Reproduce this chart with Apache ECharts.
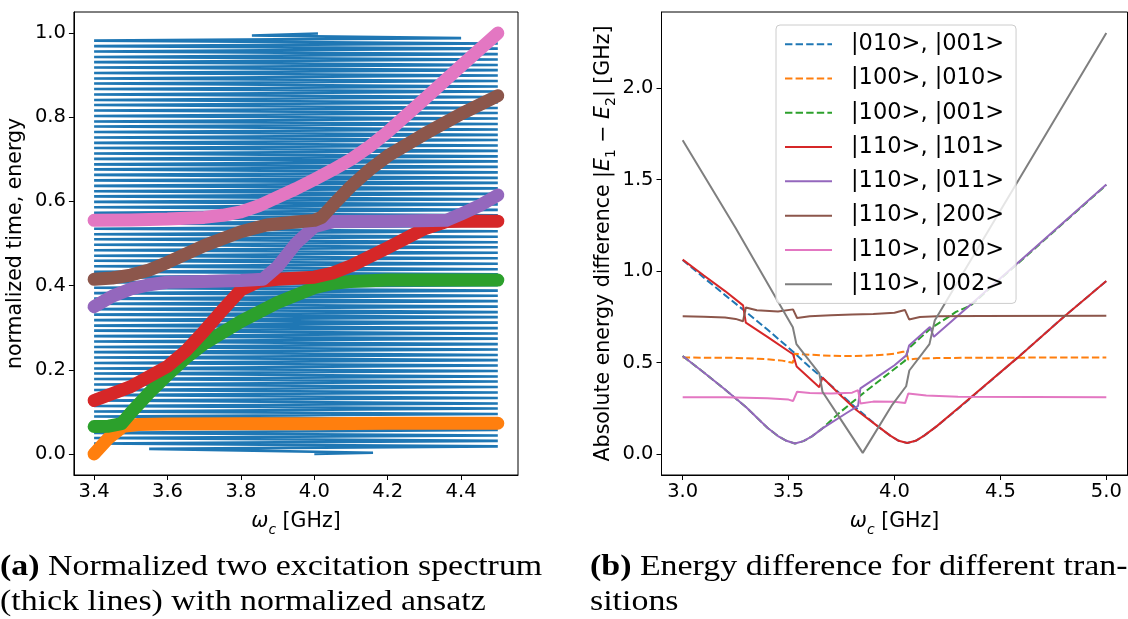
<!DOCTYPE html>
<html><head><meta charset="utf-8">
<script src="https://cdn.jsdelivr.net/npm/echarts@6/dist/echarts.min.js"></script>
<style>html,body{margin:0;padding:0;background:#fff}#c{width:1128px;height:619px}</style>
</head><body><div id="c"></div><script>
// ---------- Panel (a): ansatz zigzag (omega_c vs normalized time) ----------
const ANSATZ_START_W = [4.00, 4.16];
const ANSATZ_START_T = [0.000, 0.003];
const ANSATZ_LEFT_W = [
 3.55,3.40,3.40,3.40,3.40,3.40,3.40,3.40,3.40,3.40,
 3.40,3.40,3.40,3.40,3.40,3.40,3.40,3.40,3.40,3.40,
 3.40,3.40,3.40,3.40,3.40,3.40,3.40,3.40,3.40,3.40,
 3.40,3.40,3.40,3.40,3.40,3.40,3.40,3.40,3.40,3.40,
 3.40,3.40,3.40,3.40,3.40,3.40,3.40,3.40,3.40,3.40,
 3.40,3.40,3.40,3.40,3.40,3.40,3.40,3.40,3.40,3.40,
 3.40,3.40,3.40,3.40,3.40,3.40,3.40,3.40,3.40,3.40,
 3.40,3.40,3.40,3.40,3.40,3.40,3.40];
const ANSATZ_LEFT_T = [
 0.012,0.025,0.038,0.050,0.063,0.076,0.089,0.101,0.114,0.127,
 0.140,0.152,0.165,0.178,0.191,0.203,0.216,0.229,0.242,0.254,
 0.267,0.280,0.293,0.305,0.318,0.331,0.344,0.357,0.369,0.382,
 0.395,0.408,0.420,0.433,0.446,0.459,0.471,0.484,0.497,0.510,
 0.522,0.535,0.548,0.561,0.573,0.586,0.599,0.612,0.624,0.637,
 0.650,0.663,0.676,0.688,0.701,0.714,0.727,0.739,0.752,0.765,
 0.778,0.790,0.803,0.816,0.829,0.841,0.854,0.867,0.880,0.892,
 0.905,0.918,0.931,0.943,0.956,0.969,0.982];
const ANSATZ_RIGHT_W = [
 4.50,4.50,4.50,4.50,4.50,4.50,4.50,4.50,4.50,4.50,
 4.50,4.50,4.50,4.50,4.50,4.50,4.50,4.50,4.50,4.50,
 4.50,4.50,4.50,4.50,4.50,4.50,4.50,4.50,4.50,4.50,
 4.50,4.50,4.50,4.50,4.50,4.50,4.50,4.50,4.50,4.50,
 4.50,4.50,4.50,4.50,4.50,4.50,4.50,4.50,4.50,4.50,
 4.50,4.50,4.50,4.50,4.50,4.50,4.50,4.50,4.50,4.50,
 4.50,4.50,4.50,4.50,4.50,4.50,4.50,4.50,4.50,4.50,
 4.50,4.50,4.50,4.50,4.50,4.50,4.40];
const ANSATZ_RIGHT_T = [
 0.018,0.031,0.044,0.057,0.069,0.082,0.095,0.108,0.120,0.133,
 0.146,0.159,0.172,0.184,0.197,0.210,0.223,0.235,0.248,0.261,
 0.274,0.286,0.299,0.312,0.325,0.337,0.350,0.363,0.376,0.388,
 0.401,0.414,0.427,0.439,0.452,0.465,0.478,0.491,0.503,0.516,
 0.529,0.542,0.554,0.567,0.580,0.593,0.605,0.618,0.631,0.644,
 0.656,0.669,0.682,0.695,0.707,0.720,0.733,0.746,0.758,0.771,
 0.784,0.797,0.810,0.822,0.835,0.848,0.861,0.873,0.886,0.899,
 0.912,0.924,0.937,0.950,0.963,0.975,0.988];
const ANSATZ_END_W = [3.83, 4.01];
const ANSATZ_END_T = [0.994, 0.999];

// ---------- Panel (a): normalized two-excitation spectrum (thick lines) ----------
const A_ORANGE_X = [3.40,3.44,3.48,3.52,3.60,3.80,4.00,4.20,4.50];
const A_ORANGE_Y = [0.000,0.038,0.066,0.070,0.071,0.072,0.072,0.073,0.073];
const A_GREEN_X = [3.40,3.44,3.475,3.50,3.55,3.60,3.65,3.70,3.80,3.90,4.00,4.05,4.10,4.20,4.30,4.50];
const A_GREEN_Y = [0.065,0.066,0.072,0.098,0.145,0.188,0.228,0.262,0.315,0.360,0.395,0.405,0.410,0.413,0.413,0.413];
const A_RED_X = [3.40,3.50,3.60,3.65,3.70,3.75,3.80,3.85,3.90,4.00,4.05,4.10,4.20,4.30,4.36,4.40,4.50];
const A_RED_Y = [0.127,0.160,0.208,0.245,0.292,0.342,0.390,0.410,0.415,0.420,0.430,0.447,0.490,0.535,0.552,0.553,0.553];
const A_PURPLE_X = [3.40,3.45,3.50,3.55,3.60,3.70,3.80,3.86,3.90,3.95,4.00,4.05,4.20,4.36,4.40,4.45,4.50];
const A_PURPLE_Y = [0.350,0.375,0.392,0.402,0.408,0.410,0.412,0.415,0.445,0.500,0.540,0.552,0.553,0.555,0.570,0.590,0.615];
const A_BROWN_X = [3.40,3.45,3.50,3.55,3.60,3.70,3.80,3.87,3.95,4.00,4.02,4.06,4.10,4.15,4.20,4.30,4.40,4.50];
const A_BROWN_Y = [0.415,0.418,0.425,0.437,0.455,0.495,0.528,0.544,0.551,0.555,0.562,0.600,0.636,0.675,0.708,0.760,0.808,0.851];
const A_PINK_X = [3.40,3.50,3.60,3.70,3.75,3.80,3.85,3.90,3.95,4.00,4.05,4.10,4.15,4.20,4.30,4.40,4.50];
const A_PINK_Y = [0.555,0.556,0.558,0.562,0.567,0.575,0.590,0.610,0.630,0.652,0.675,0.700,0.730,0.765,0.843,0.922,1.000];

// ---------- Panel (b): energy differences ----------
const B_NAMES = ['|010>, |001>','|100>, |010>','|100>, |001>','|110>, |101>','|110>, |011>','|110>, |200>','|110>, |020>','|110>, |002>'];
const B_BLUE_X = [3.00,3.10,3.20,3.30,3.40,3.52,3.58,3.68,3.80,3.92,3.98,4.02,4.06,4.10,4.14,4.20,4.30,4.58,4.80,5.00];
const B_BLUE_Y = [1.060,0.963,0.868,0.775,0.680,0.560,0.495,0.395,0.270,0.152,0.100,0.072,0.060,0.072,0.100,0.152,0.247,0.525,0.750,0.945];
const B_ORANGE_X = [3.00,3.25,3.40,3.47,3.52,3.528,3.56,3.65,3.75,3.85,3.95,4.00,4.04,4.055,4.065,4.10,4.20,4.40,5.00];
const B_ORANGE_Y = [0.527,0.525,0.518,0.510,0.498,0.548,0.545,0.539,0.535,0.536,0.542,0.548,0.558,0.560,0.515,0.520,0.524,0.526,0.527];
const B_GREEN_X = [3.00,3.10,3.20,3.30,3.40,3.45,3.49,3.53,3.57,3.61,3.66,3.74,3.84,3.95,4.05,4.065,4.17,4.29,4.36,5.00];
const B_GREEN_Y = [0.535,0.445,0.352,0.255,0.143,0.098,0.072,0.057,0.070,0.096,0.140,0.225,0.320,0.420,0.510,0.575,0.685,0.776,0.812,1.470];
const B_RED_X = [3.00,3.10,3.20,3.285,3.298,3.40,3.521,3.538,3.645,3.660,3.75,3.82,3.92,3.98,4.02,4.06,4.10,4.14,4.20,4.30,4.58,4.80,5.00];
const B_RED_Y = [1.062,0.975,0.890,0.812,0.718,0.640,0.545,0.478,0.365,0.418,0.315,0.240,0.152,0.100,0.072,0.060,0.072,0.100,0.152,0.250,0.525,0.750,0.945];
const B_PURPLE_X = [3.00,3.10,3.20,3.30,3.40,3.45,3.49,3.53,3.57,3.61,3.66,3.77,3.828,3.839,3.92,4.00,4.057,4.069,4.167,4.186,4.356,5.00];
const B_PURPLE_Y = [0.535,0.445,0.352,0.255,0.143,0.098,0.072,0.057,0.070,0.096,0.140,0.221,0.263,0.358,0.421,0.485,0.540,0.592,0.694,0.640,0.812,1.472];
const B_BROWN_X = [3.00,3.10,3.20,3.25,3.285,3.298,3.35,3.45,3.521,3.54,3.60,3.70,3.80,3.90,4.00,4.049,4.069,4.12,4.20,4.40,5.00];
const B_BROWN_Y = [0.752,0.750,0.745,0.738,0.725,0.800,0.785,0.778,0.790,0.743,0.752,0.758,0.762,0.765,0.772,0.787,0.735,0.748,0.752,0.754,0.755];
const B_PINK_X = [3.00,3.20,3.40,3.50,3.521,3.540,3.60,3.70,3.80,3.828,3.839,3.90,4.00,4.050,4.065,4.15,4.30,5.00];
const B_PINK_Y = [0.310,0.310,0.305,0.297,0.289,0.340,0.333,0.330,0.335,0.349,0.276,0.286,0.285,0.278,0.330,0.320,0.313,0.310];
const B_GRAY_X = [3.00,3.25,3.52,3.537,3.645,3.660,3.75,3.85,3.99,4.055,4.07,4.165,4.19,4.60,5.00];
const B_GRAY_Y = [1.714,1.235,0.692,0.600,0.440,0.340,0.182,0.006,0.270,0.370,0.456,0.600,0.729,1.524,2.300];

// ---------- Ticks / captions ----------
const A_XTICKS = [3.4,3.6,3.8,4.0,4.2,4.4];
const A_YTICKS = [0.0,0.2,0.4,0.6,0.8,1.0];
const B_XTICKS = [3.0,3.5,4.0,4.5,5.0];
const B_YTICKS = [0.0,0.5,1.0,1.5,2.0];
const CAPTION_A = ['{b|(a)} Normalized two excitation spectrum', '(thick lines) with normalized ansatz'];
const CAPTION_B = ['{b|(b)} Energy difference for different tran-', 'sitions'];

const C = ['#1f77b4','#ff7f0e','#2ca02c','#d62728','#9467bd','#8c564b','#e377c2','#7f7f7f'];
const zip = (xs, ys) => xs.map((x, i) => [x, ys[i]]);

const ansatz = [];
ANSATZ_START_W.forEach((w, i) => ansatz.push([w, ANSATZ_START_T[i]]));
for (let k = 0; k < ANSATZ_LEFT_T.length; k++) {
  ansatz.push([ANSATZ_LEFT_W[k], ANSATZ_LEFT_T[k]]);
  ansatz.push([ANSATZ_RIGHT_W[k], ANSATZ_RIGHT_T[k]]);
}
ANSATZ_END_W.forEach((w, i) => ansatz.push([w, ANSATZ_END_T[i]]));

const FONT = 'DejaVu Sans';
const TICK_FS = 19.5, NAME_FS = 20.5;
const rich = {
  i: {fontStyle: 'italic', fontFamily: FONT, fontSize: NAME_FS, lineHeight: 30, color: '#000'},
  s: {fontStyle: 'italic', fontFamily: FONT, fontSize: 14, lineHeight: 18, verticalAlign: 'bottom', color: '#000'},
  n: {fontFamily: FONT, fontSize: 14, lineHeight: 18, verticalAlign: 'bottom', color: '#000'}
};
function xAxis(idx, min, max, ticks) {
  return {
    type: 'value', gridIndex: idx, min, max,
    name: '{i|ω}{s|c} [GHz]', nameLocation: 'middle', nameGap: 14,
    nameTextStyle: {fontFamily: FONT, fontSize: NAME_FS, color: '#000', lineHeight: 30, rich},
    axisLine: {show: true, onZero: false, lineStyle: {color: '#000', width: 1}},
    axisTick: {show: true, inside: false, length: 5, customValues: ticks, lineStyle: {color: '#000', width: 1}},
    axisLabel: {customValues: ticks, formatter: v => v.toFixed(1), fontFamily: FONT, fontSize: TICK_FS, color: '#000', margin: 7},
    splitLine: {show: false}
  };
}
function yAxis(idx, min, max, ticks, name, gap) {
  return {
    type: 'value', gridIndex: idx, min, max,
    name, nameLocation: 'middle', nameGap: gap, nameRotate: 90,
    nameTextStyle: {fontFamily: FONT, fontSize: NAME_FS, color: '#000', lineHeight: 30, rich},
    axisLine: {show: true, onZero: false, lineStyle: {color: '#000', width: 1}},
    axisTick: {show: true, inside: false, length: 5, customValues: ticks, lineStyle: {color: '#000', width: 1}},
    axisLabel: {customValues: ticks, formatter: v => v.toFixed(1), fontFamily: FONT, fontSize: TICK_FS, color: '#000', margin: 8},
    splitLine: {show: false}
  };
}
function thick(name, xs, ys, color) {
  return {name, type: 'line', xAxisIndex: 0, yAxisIndex: 0, data: zip(xs, ys), symbol: 'none', silent: true,
    lineStyle: {width: 13, color, cap: 'round', join: 'round'}};
}
function thin(name, xs, ys, color, dashed) {
  return {name, type: 'line', xAxisIndex: 1, yAxisIndex: 1, data: zip(xs, ys), symbol: 'none',
    itemStyle: {color},
    lineStyle: {width: 2, color, type: dashed ? [7.4, 3.2] : 'solid'}};
}

const capStyle = (text) => ({
  text, fontFamily: 'Liberation Serif', fontSize: 30, fill: '#000',
  rich: {b: {fontFamily: 'Liberation Serif', fontSize: 30, fontWeight: 'bold', color: '#000'}}
});

const option = {
  animation: false,
  backgroundColor: '#fff',
  grid: [
    {left: 68, top: 12, width: 450, height: 463, show: true, borderColor: '#000', borderWidth: 1, backgroundColor: 'transparent'},
    {left: 661.5, top: 12, width: 466, height: 463, show: true, borderColor: '#000', borderWidth: 1, backgroundColor: 'transparent'}
  ],
  xAxis: [xAxis(0, 3.345, 4.555, A_XTICKS), xAxis(1, 2.9, 5.1, B_XTICKS)],
  yAxis: [
    yAxis(0, -0.05, 1.05, A_YTICKS, 'normalized time, energy', 30),
    yAxis(1, -0.115, 2.415, B_YTICKS, 'Absolute energy difference |{i|E}{n|1} − {i|E}{n|2}| [GHz]', 32)
  ],
  legend: {
    data: B_NAMES, orient: 'vertical', left: 776, top: 25,
    itemWidth: 47, itemHeight: 14, itemGap: 8,
    padding: [6, 12, 6, 8],
    backgroundColor: 'rgba(255,255,255,0.8)', borderColor: '#cccccc', borderWidth: 1, borderRadius: 4,
    itemStyle: {opacity: 0},
    textStyle: {fontFamily: FONT, fontSize: 22.5, color: '#000', lineHeight: 26.3, padding: [0, 0, 0, 14]},
    selectedMode: false
  },
  series: [
    {name: 'ansatz', type: 'line', xAxisIndex: 0, yAxisIndex: 0, data: ansatz, symbol: 'none', silent: true,
      lineStyle: {width: 2.6, color: C[0], join: 'miter'}},
    thick('E1', A_ORANGE_X, A_ORANGE_Y, C[1]),
    thick('E2', A_GREEN_X, A_GREEN_Y, C[2]),
    thick('E3', A_RED_X, A_RED_Y, C[3]),
    thick('E4', A_PURPLE_X, A_PURPLE_Y, C[4]),
    thick('E5', A_BROWN_X, A_BROWN_Y, C[5]),
    thick('E6', A_PINK_X, A_PINK_Y, C[6]),
    thin(B_NAMES[0], B_BLUE_X, B_BLUE_Y, C[0], true),
    thin(B_NAMES[1], B_ORANGE_X, B_ORANGE_Y, C[1], true),
    thin(B_NAMES[2], B_GREEN_X, B_GREEN_Y, C[2], true),
    thin(B_NAMES[3], B_RED_X, B_RED_Y, C[3], false),
    thin(B_NAMES[4], B_PURPLE_X, B_PURPLE_Y, C[4], false),
    thin(B_NAMES[5], B_BROWN_X, B_BROWN_Y, C[5], false),
    thin(B_NAMES[6], B_PINK_X, B_PINK_Y, C[6], false),
    thin(B_NAMES[7], B_GRAY_X, B_GRAY_Y, C[7], false)
  ],
  graphic: [
    {type: 'text', left: 0, top: 552, scaleX: 1.13, style: capStyle(CAPTION_A[0])},
    {type: 'text', left: 0, top: 587, scaleX: 1.13, style: capStyle(CAPTION_A[1])},
    {type: 'text', left: 590, top: 552, scaleX: 1.13, style: capStyle(CAPTION_B[0])},
    {type: 'text', left: 590, top: 587, scaleX: 1.13, style: capStyle(CAPTION_B[1])}
  ]
};
const chart = echarts.init(document.getElementById('c'), null, {renderer: 'canvas'});
chart.setOption(option);
</script></body></html>
